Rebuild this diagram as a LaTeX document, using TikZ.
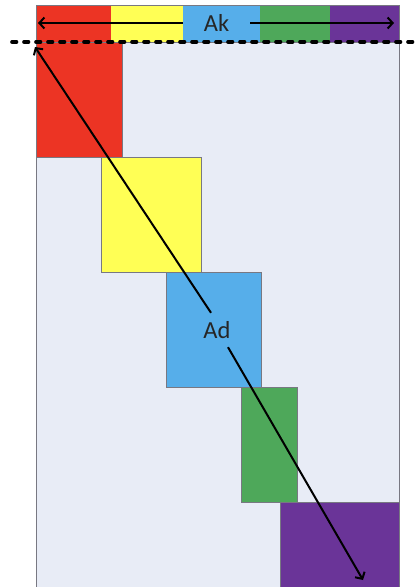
\documentclass[tikz,border=0pt]{standalone}
\usepackage{fontspec}
\setmainfont{Carlito}
\usetikzlibrary{arrows.meta}
\definecolor{cRed}{RGB}{236,52,36}
\definecolor{cYellow}{RGB}{255,255,85}
\definecolor{cBlue}{RGB}{86,174,234}
\definecolor{cGreen}{RGB}{78,168,90}
\definecolor{cPurple}{RGB}{106,52,152}
\definecolor{cBack}{RGB}{232,236,246}
\definecolor{cEdge}{RGB}{120,120,130}
\tikzset{
  block/.style={draw=cEdge, line width=0.6pt},
  arr/.style={line width=2pt, -{Straight Barb[length=5pt,width=11pt]}},
  lbl/.style={font=\fontsize{24.5}{24.5}\selectfont, text=black!85, inner sep=0pt, minimum height=34pt}
}
\begin{document}
\begin{tikzpicture}[x=1pt,y=-1pt]
\useasboundingbox (0,0) rectangle (419,587);
% matrix area
\fill[cBack] (36,42) rectangle (399,587);
\draw[cEdge, line width=0.6pt] (36,587) -- (36,42) -- (399,42) -- (399,587);
% diagonal blocks
\filldraw[block, fill=cRed]    (36,42)   rectangle (122,157);
\filldraw[block, fill=cYellow] (101,157) rectangle (201,272);
\filldraw[block, fill=cBlue]   (166,272) rectangle (261,387);
\filldraw[block, fill=cGreen]  (241,387) rectangle (297,502);
\filldraw[block, fill=cPurple] (280,502) rectangle (399,590);
% top strip
\fill[cRed]    (36,5)  rectangle (111,42);
\fill[cYellow] (111,5) rectangle (183,42);
\fill[cBlue]   (183,5) rectangle (260,42);
\fill[cGreen]  (260,5) rectangle (330,42);
\fill[cPurple] (330,5) rectangle (399,42);
\draw[cEdge, line width=0.4pt] (36,42) -- (36,5) -- (399,5) -- (399,42);
% dashed separator
\draw[line width=3.6pt, line cap=round, dash pattern=on 4.5pt off 7.5pt] (12,42) -- (419,42);
% labels
\node[lbl, minimum width=67pt] (Ak) at (216.5,23) {Ak};
\node[lbl] (Ad) at (217,330) {Ad};
\coordinate (akl) at (38,23);
\coordinate (akr) at (394,23);
\coordinate (adt) at (35,47);
\coordinate (adb) at (363,580);
\draw[arr] (Ak.west) -- (akl);
\draw[arr] (Ak.east) -- (akr);
\draw[arr] ([xshift=-6pt]Ad.north) -- (adt);
\draw[arr] ([xshift=11pt]Ad.south) -- (adb);
\end{tikzpicture}
\end{document}
